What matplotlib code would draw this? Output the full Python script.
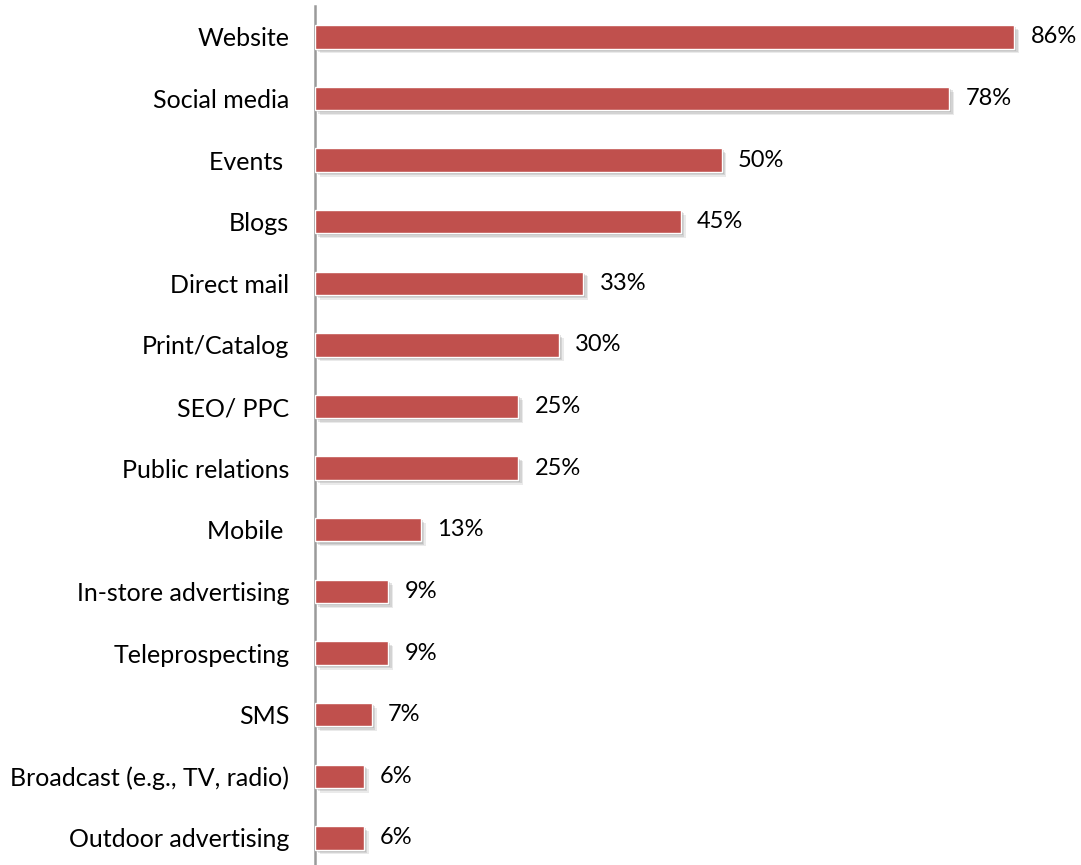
import matplotlib.pyplot as plt
import matplotlib.patheffects as pe

plt.rcParams['font.family'] = ['Lato', 'DejaVu Sans']

channels = ['Website', 'Social media', 'Events ', 'Blogs', 'Direct mail',
            'Print/Catalog', 'SEO/ PPC', 'Public relations', 'Mobile ',
            'In-store advertising', 'Teleprospecting', 'SMS',
            'Broadcast (e.g., TV, radio)', 'Outdoor advertising']
shares = [86, 78, 50, 45, 33, 30, 25, 25, 13, 9, 9, 7, 6, 6]

fig = plt.figure(figsize=(10.81, 8.65), dpi=100)
ax = fig.add_axes([315 / 1081, 0, 1 - 315 / 1081, 1 - 6 / 865])

ypos = list(range(len(channels)))
bars = ax.barh(ypos, shares, height=0.38, color='#C0504D',
               edgecolor='white', linewidth=1.0, zorder=3)
# soft drop shadow under each bar
for b in bars:
    b.set_path_effects([
        pe.SimplePatchShadow(offset=(3.5, -3.5), shadow_rgbFace='#909090', alpha=0.18),
        pe.SimplePatchShadow(offset=(2.5, -2.5), shadow_rgbFace='#909090', alpha=0.25),
        pe.SimplePatchShadow(offset=(1.5, -1.5), shadow_rgbFace='#909090', alpha=0.3),
        pe.Normal()])

for y, v in zip(ypos, shares):
    ax.text(v + 2.0, y, f'{v}%', va='center', ha='left', fontsize=17, color='black')

ax.set_xlim(0, (1081 - 315) / 8.13)
ax.set_ylim(13.44, -0.5)
ax.set_yticks(ypos)
ax.set_yticklabels(channels, fontsize=18)
ax.tick_params(axis='y', length=0, pad=18.5)
ax.set_xticks([])

for s in ['top', 'right', 'bottom']:
    ax.spines[s].set_visible(False)
ax.spines['left'].set_color('#9a9a9a')
ax.spines['left'].set_linewidth(1.8)

fig.savefig('out.png', dpi=100)
